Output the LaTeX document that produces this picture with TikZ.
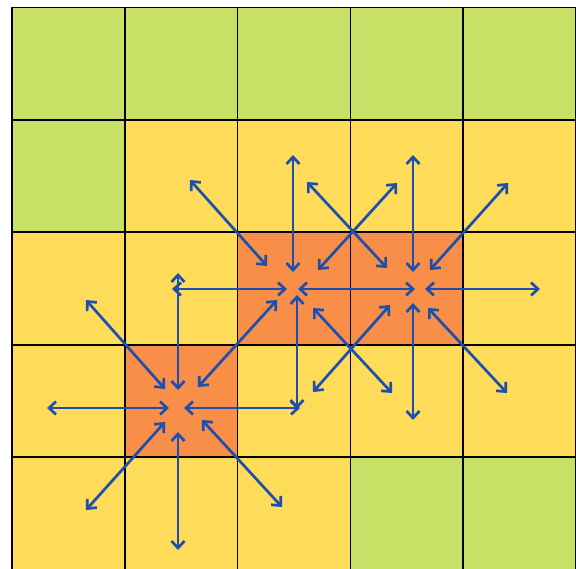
\documentclass[tikz,border=0pt]{standalone}
\usetikzlibrary{arrows.meta}
\definecolor{cgreen}{HTML}{C8E066}
\definecolor{cyellow}{HTML}{FEDB58}
\definecolor{corange}{HTML}{F98E48}
\definecolor{cblue}{HTML}{1C4FAE}
\tikzset{
  cell/.style={draw=black, line width=1.7pt, minimum width=112.8pt, minimum height=112.4pt, inner sep=0pt, outer sep=0pt},
  arr/.style={draw=cblue, line width=2.7pt, {Straight Barb[length=7pt,width=13pt,line width=2.7pt]}-{Straight Barb[length=7pt,width=13pt,line width=2.7pt]}}
}
\begin{document}
\begin{tikzpicture}[x=1pt,y=-1pt]
\useasboundingbox (0,0) rectangle (576,569);
\fill[white] (0,0) rectangle (576,569);
% cells: row/col/colour
\foreach \r/\c/\col in {
  0/0/cgreen,0/1/cgreen,0/2/cgreen,0/3/cgreen,0/4/cgreen,
  1/0/cgreen,1/1/cyellow,1/2/cyellow,1/3/cyellow,1/4/cyellow,
  2/0/cyellow,2/1/cyellow,2/2/corange,2/3/corange,2/4/cyellow,
  3/0/cyellow,3/1/corange,3/2/cyellow,3/3/cyellow,3/4/cyellow,
  4/0/cyellow,4/1/cyellow,4/2/cyellow,4/3/cgreen,4/4/cgreen}{
  \node[cell, fill=\col] (cell-\r-\c) at ({12+112.8*\c+56.4},{7.5+112.4*\r+56.2}) {};
}
% arrows
\foreach \n/\xa/\ya/\xb/\yb in {
  1/47/408/169/408, 2/184/408/300/408, 3/178/432/178/550, 4/165/422/86/510,
  5/202/420/282/507, 6/178/273/178/390, 7/86/300/165/389, 8/198/387/277/300,
  9/172/289/287/289, 10/293/155/293/272, 11/190/180/267/266, 12/318/270/397/183,
  13/313/308/392/393, 14/297/295/297/409, 15/298/289/415/289,
  16/413/155/413/272, 17/307/182/387/268, 18/430/270/508/183, 19/425/289/540/289,
  20/428/308/507/393, 21/413/303/413/420, 22/390/305/313/392}{
  \coordinate (p\n a) at (\xa,\ya);
  \coordinate (p\n b) at (\xb,\yb);
  \draw[arr] (p\n a) -- (p\n b);
}
\end{tikzpicture}
\end{document}
